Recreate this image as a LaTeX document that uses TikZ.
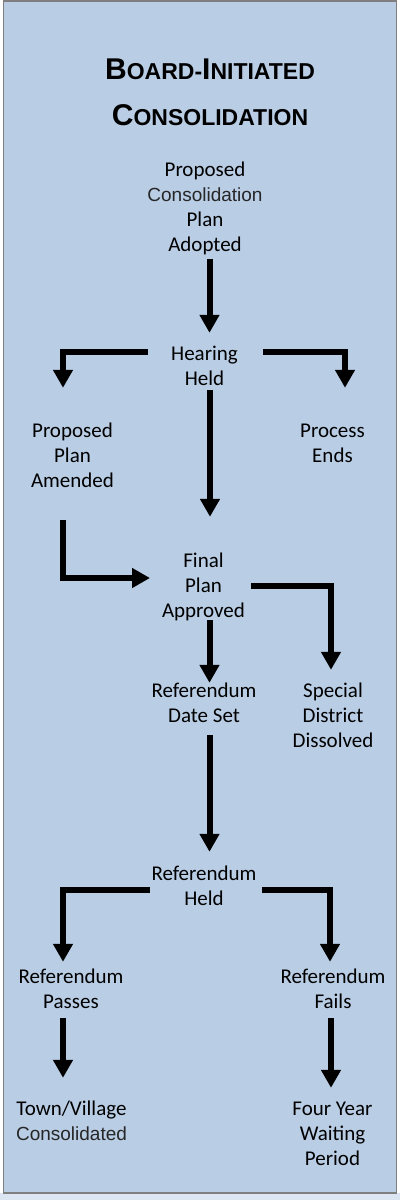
\documentclass[tikz,border=0pt]{standalone}
\usepackage{fontspec}
\setmainfont{Carlito}
\newfontfamily\arialf{Liberation Sans}
\usetikzlibrary{arrows.meta}
\definecolor{panelblue}{HTML}{B9CDE5}
\definecolor{stripblue}{HTML}{DCE6F2}
\definecolor{framegray}{HTML}{7F7F7F}
\definecolor{consgray}{HTML}{262626}
\newcommand\stepfont{\fontsize{21}{25}\selectfont}
\newcommand\stepcons{\arialf\fontsize{19}{25}\selectfont\color{consgray}}
\newcommand\titlefont{\arialf\bfseries\fontsize{30}{46}\selectfont}
\newcommand\tsc[2]{{\fontsize{30}{46}\selectfont #1}{\fontsize{23}{46}\selectfont #2}}
\newcommand\steplines[1]{\begin{tabular}[t]{@{}c@{}}#1\end{tabular}}
\tikzset{
  stepnode/.style={anchor=base, inner sep=0pt, font=\stepfont, text=black},
  titlenode/.style={anchor=base, inner sep=0pt, font=\titlefont, text=black},
  arr/.style={line width=6pt, line cap=butt, line join=miter, draw=black,
    -{Triangle[width=19pt,length=18pt]}}
}
\begin{document}
\begin{tikzpicture}[x=1pt,y=-1pt]
\useasboundingbox (0,0) rectangle (400,1200);
\fill[white] (0,0) rectangle (400,1200);
\fill[stripblue] (0,1193) rectangle (400,1200);
\draw[framegray, line width=1.5pt, fill=panelblue] (3.5,0.75) rectangle (396.5,1193);

\node[titlenode] (title) at (210,79) {\steplines{\tsc{B}{OARD-}\tsc{I}{NITIATED}\\ \tsc{C}{ONSOLIDATION}}};

\node[stepnode] (top) at (205,176) {\steplines{Proposed\\ {\stepcons Consolidation}\\ Plan\\ Adopted}};
\node[stepnode] (hh) at (204.5,360) {\steplines{Hearing\\ Held}};
\node[stepnode] (ppa) at (72.5,437) {\steplines{Proposed\\ Plan\\ Amended}};
\node[stepnode] (pe) at (332.5,437) {\steplines{Process\\ Ends}};
\node[stepnode] (fpa) at (203.5,567) {\steplines{Final\\ Plan\\ Approved}};
\node[stepnode] (rds) at (204,697) {\steplines{Referendum\\ Date Set}};
\node[stepnode] (sdd) at (333,697) {\steplines{Special\\ District\\ Dissolved}};
\node[stepnode] (rh) at (204,880) {\steplines{Referendum\\ Held}};
\node[stepnode] (rp) at (71,983) {\steplines{Referendum\\ Passes}};
\node[stepnode] (rf) at (333,983) {\steplines{Referendum\\ Fails}};
\node[stepnode] (tvc) at (71.5,1115) {\steplines{Town/Village\\ {\stepcons Consolidated}}};
\node[stepnode] (fyw) at (332.5,1115) {\steplines{Four Year\\ Waiting\\ Period}};

\draw[arr] ([xshift=4.5pt]top.south) -- ([xshift=5pt,yshift=9.5pt]hh.north);
\draw[arr] ([xshift=-56.5pt,yshift=15.5pt]hh.center) -| ([xshift=-9.5pt,yshift=31.5pt]ppa.north);
\draw[arr] ([xshift=58.5pt,yshift=15.5pt]hh.center) -| ([xshift=12.5pt,yshift=31.5pt]pe.north);
\draw[arr] ([xshift=5.5pt,yshift=2.5pt]hh.south) -- ([xshift=6.5pt,yshift=32.5pt]fpa.north);
\draw[arr] ([xshift=-9.5pt,yshift=-25.5pt]ppa.south) |- ([xshift=-53.5pt,yshift=9pt]fpa.center);
\draw[arr] ([xshift=47.5pt,yshift=1.5pt]fpa.center) -| ([xshift=-2pt,yshift=9.5pt]sdd.north);
\draw[arr] ([xshift=6pt,yshift=4.5pt]fpa.south) -- ([xshift=5.5pt,yshift=-3.5pt]rds.north);
\draw[arr] ([xshift=5.5pt,yshift=-5.5pt]rds.south) -- ([xshift=5.5pt,yshift=10.5pt]rh.north);
\draw[arr] ([xshift=-54pt,yshift=-2pt]rh.center) -| ([xshift=-8pt,yshift=3.5pt]rp.north);
\draw[arr] ([xshift=58pt,yshift=-2pt]rh.center) -| ([xshift=-3pt,yshift=3.5pt]rf.north);
\draw[arr] ([xshift=-8pt,yshift=-2.5pt]rp.south) -- ([xshift=-8.5pt,yshift=19.5pt]tvc.north);
\draw[arr] ([xshift=-2pt,yshift=-2.5pt]rf.south) -- ([xshift=-1.5pt,yshift=9.5pt]fyw.north);
\end{tikzpicture}
\end{document}
